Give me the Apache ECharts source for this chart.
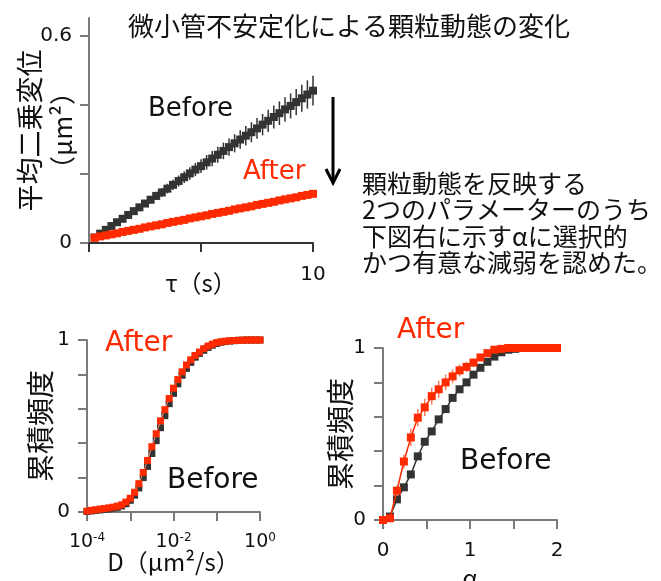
<!DOCTYPE html>
<html><head><meta charset="utf-8">
<script src="https://cdn.jsdelivr.net/npm/echarts@6/dist/echarts.min.js"></script>
<style>html,body{margin:0;padding:0;background:#fff}#c{width:661px;height:581px}</style>
</head><body><div id="c"></div>
<script>
// ---- Top chart: MSD vs tau ----
const tau = [0.25,0.5,0.75,1,1.25,1.5,1.75,2,2.25,2.5,2.75,3,3.25,3.5,3.75,4,4.25,4.5,4.75,5,5.25,5.5,5.75,6,6.25,6.5,6.75,7,7.25,7.5,7.75,8,8.25,8.5,8.75,9,9.25,9.5,9.75,10];
const msdBefore = [0.016,0.027,0.038,0.049,0.06,0.07,0.081,0.092,0.103,0.114,0.125,0.136,0.146,0.157,0.168,0.179,0.19,0.201,0.212,0.222,0.233,0.244,0.255,0.266,0.277,0.288,0.299,0.31,0.32,0.331,0.342,0.353,0.364,0.375,0.386,0.396,0.407,0.418,0.429,0.44];
const msdBeforeErr = [0.002,0.003,0.004,0.005,0.006,0.006,0.007,0.008,0.009,0.01,0.011,0.012,0.013,0.014,0.015,0.016,0.017,0.018,0.019,0.02,0.021,0.022,0.023,0.024,0.025,0.026,0.027,0.028,0.029,0.03,0.031,0.032,0.033,0.034,0.035,0.036,0.038,0.039,0.041,0.043];
const msdAfter = [0.015,0.019,0.022,0.025,0.028,0.032,0.035,0.038,0.041,0.045,0.048,0.051,0.054,0.058,0.061,0.064,0.067,0.071,0.074,0.077,0.08,0.084,0.087,0.09,0.093,0.097,0.1,0.103,0.106,0.11,0.113,0.116,0.119,0.123,0.126,0.129,0.132,0.136,0.139,0.142];
const msdAfterErr = [0.001,0.001,0.001,0.002,0.002,0.002,0.002,0.002,0.003,0.003,0.003,0.003,0.003,0.003,0.004,0.004,0.004,0.004,0.004,0.004,0.005,0.005,0.005,0.005,0.005,0.005,0.006,0.006,0.006,0.006,0.006,0.006,0.007,0.007,0.007,0.007,0.007,0.007,0.008,0.008];
const msdYTicks = [0,0.2,0.4,0.6];
const msdYLabels = [0,0.6];
const msdXTicks = [0,5,10];
const msdXLabels = [10];

// ---- Bottom-left: CDF of D (log axis) ----
const dVals = [1e-4,1.26e-4,1.58e-4,2e-4,2.51e-4,3.16e-4,3.98e-4,5.01e-4,6.31e-4,7.94e-4,
  1e-3,1.26e-3,1.58e-3,2e-3,2.51e-3,3.16e-3,3.98e-3,5.01e-3,6.31e-3,7.94e-3,
  1e-2,1.26e-2,1.58e-2,2e-2,2.51e-2,3.16e-2,3.98e-2,5.01e-2,6.31e-2,7.94e-2,
  1e-1,1.26e-1,1.58e-1,2e-1,2.51e-1,3.16e-1,3.98e-1,5.01e-1,6.31e-1,7.94e-1,1];
const dCdfBefore = [0.003,0.006,0.009,0.012,0.015,0.018,0.022,0.027,0.035,0.048,0.068,0.098,0.14,0.2,0.265,0.34,0.415,0.49,0.56,0.63,0.69,0.745,0.795,0.835,0.87,0.9,0.922,0.94,0.957,0.97,0.98,0.987,0.991,0.994,0.996,0.998,0.999,1,1,1,1];
const dCdfAfter = [0.005,0.01,0.013,0.017,0.02,0.024,0.028,0.034,0.042,0.058,0.08,0.115,0.165,0.23,0.3,0.38,0.455,0.53,0.595,0.66,0.72,0.77,0.815,0.855,0.885,0.91,0.93,0.95,0.965,0.976,0.985,0.99,0.993,0.995,0.997,0.998,0.999,1,1,1,1];
const dTicks = [1e-4,1e-3,1e-2,1e-1,1];
const dLabels = [1e-4,1e-2,1];
const cdfTicks = [0,0.2,0.4,0.6,0.8,1];
const cdfLabels = [0,1];

// ---- Bottom-right: CDF of alpha ----
const alphaVals = [0,0.08,0.16,0.24,0.32,0.4,0.48,0.56,0.64,0.72,0.8,0.88,0.96,1.04,1.12,1.2,1.28,1.36,1.44,1.52,1.6,1.68,1.76,1.84,1.92,2];
const aCdfBefore = [0,0.02,0.12,0.19,0.265,0.37,0.455,0.515,0.585,0.645,0.71,0.76,0.8,0.845,0.885,0.92,0.95,0.975,0.99,0.995,1,1,1,1,1,1];
const aCdfAfter = [0,0.01,0.17,0.34,0.48,0.595,0.655,0.72,0.76,0.8,0.835,0.87,0.89,0.915,0.945,0.97,0.99,0.995,1,1,1,1,1,1,1,1];
const aErrAfter = [0,0.01,0.03,0.04,0.05,0.05,0.05,0.05,0.05,0.045,0.04,0.035,0.03,0.025,0.02,0.015,0.01,0.005,0,0,0,0,0,0,0,0];
const aErrBefore = [0,0.01,0.02,0.02,0.02,0.02,0.02,0.02,0.02,0.02,0.02,0.02,0.02,0.015,0.015,0.01,0.01,0.005,0,0,0,0,0,0,0,0];
const alphaTicks = [0,0.5,1,1.5,2];
const alphaLabels = [0,1,2];

const DARK = '#333333', RED = '#ff2a00', AXIS = '#7a7a7a';
const CJK = '"Noto Sans CJK JP", sans-serif';
const LAT = '"DejaVu Sans", sans-serif';

function zip(xs, ys, es){ return xs.map((x,i)=> es ? [x, ys[i], es[i]] : [x, ys[i]]); }
function errRender(color, w){
  return function(params, api){
    const x = api.value(0), y = api.value(1), e = api.value(2);
    if (!e) return null;
    const p1 = api.coord([x, y - e]), p2 = api.coord([x, y + e]);
    return {type:'line', shape:{x1:p1[0], y1:p1[1], x2:p2[0], y2:p2[1]}, style:{stroke:color, lineWidth:w}};
  };
}
function axisBase(color){
  return {
    axisLine:{show:true, onZero:false, lineStyle:{color:color||AXIS, width:2}},
    axisTick:{show:true, inside:false, length:9, lineStyle:{color:color||AXIS, width:2}},
    splitLine:{show:false},
    nameMoveOverlap:false,
    axisLabel:{color:'#111', fontFamily:LAT, fontSize:20}
  };
}
function mkX(grid, type, min, max, ticks, labels, fmt, name, gap, margin, color){
  const a = axisBase(color);
  return Object.assign(a, {
    type, gridIndex:grid, min, max, logBase:10,
    axisTick:Object.assign(a.axisTick, {customValues:ticks}),
    axisLabel:Object.assign(a.axisLabel, {customValues:labels, formatter:fmt, margin:margin,
      rich:{b:{fontFamily:LAT, fontSize:19, color:'#111'}, s:{fontFamily:LAT, fontSize:12, color:'#111', verticalAlign:'bottom', padding:[0,0,9,0]}}}),
    name, nameLocation:'middle', nameGap:gap,
    nameTextStyle:{fontFamily:CJK, fontSize:24, color:'#111'}
  });
}
function mkY(grid, min, max, ticks, labels, name, gap, nameStyle){
  const a = axisBase();
  return Object.assign(a, {
    type:'value', gridIndex:grid, min, max,
    axisTick:Object.assign(a.axisTick, {customValues:ticks}),
    axisLabel:Object.assign(a.axisLabel, {customValues:labels, margin:17}),
    name, nameLocation:'middle', nameGap:gap, nameRotate:90,
    nameTextStyle:nameStyle
  });
}

const chart = echarts.init(document.getElementById('c'), null, {renderer:'canvas'});
chart.setOption({
  animation:false,
  backgroundColor:'#fff',
  title:{text:'微小管不安定化による顆粒動態の変化', left:344, top:8, textAlign:'center',
    textStyle:{fontFamily:CJK, fontSize:26, fontWeight:'normal', color:'#111'}},
  grid:[
    {left:89, top:18, width:224, height:225, containLabel:false, outerBoundsMode:'none'},
    {left:87, top:340, width:173, height:172, containLabel:false, outerBoundsMode:'none'},
    {left:383, top:348, width:174, height:172, containLabel:false, outerBoundsMode:'none'}
  ],
  xAxis:[
    mkX(0,'value',0,10,msdXTicks,msdXLabels,null,'τ（s）',28,22,'#333'),
    mkX(1,'log',1e-4,1,dTicks,dLabels,function(v){
      const e = Math.round(Math.log10(v)); return '{b|10}{s|' + (e===0?'0':String(e)) + '}';
    },'D（μm²/s）',38,20),
    mkX(2,'value',0,2,alphaTicks,alphaLabels,null,'α',46,21)
  ],
  yAxis:[
    mkY(0,0,0.65,msdYTicks,msdYLabels,'{a|平均二乗変位}\n{b|（μm²）}',10,
      {rich:{a:{fontFamily:CJK, fontSize:27, lineHeight:33, color:'#111'}, b:{fontFamily:CJK, fontSize:26, lineHeight:33, color:'#111'}}}),
    mkY(1,0,1,cdfTicks,cdfLabels,'累積頻度',33,{fontFamily:CJK, fontSize:28, color:'#111'}),
    mkY(2,0,1,cdfTicks,cdfLabels,'累積頻度',29,{fontFamily:CJK, fontSize:28, color:'#111'})
  ],
  series:[
    {type:'custom', xAxisIndex:0, yAxisIndex:0, renderItem:errRender(DARK,1.5), encode:{x:0,y:1}, data:zip(tau,msdBefore,msdBeforeErr), z:2},
    {type:'line', xAxisIndex:0, yAxisIndex:0, data:zip(tau,msdBefore), symbol:'rect', symbolSize:8, showSymbol:true,
      itemStyle:{color:DARK}, lineStyle:{color:DARK, width:4}, z:3},
    {type:'custom', xAxisIndex:0, yAxisIndex:0, renderItem:errRender(RED,1.5), encode:{x:0,y:1}, data:zip(tau,msdAfter,msdAfterErr), z:4},
    {type:'line', xAxisIndex:0, yAxisIndex:0, data:zip(tau,msdAfter), symbol:'rect', symbolSize:8, showSymbol:true,
      itemStyle:{color:RED}, lineStyle:{color:RED, width:6}, z:5},

    {type:'line', xAxisIndex:1, yAxisIndex:1, data:zip(dVals,dCdfBefore), symbol:'rect', symbolSize:7, showSymbol:true,
      itemStyle:{color:DARK}, lineStyle:{color:DARK, width:1}, z:3},
    {type:'line', xAxisIndex:1, yAxisIndex:1, data:zip(dVals,dCdfAfter), symbol:'rect', symbolSize:7, showSymbol:true,
      itemStyle:{color:RED}, lineStyle:{color:'#ff8a70', width:1}, z:5},

    {type:'custom', xAxisIndex:2, yAxisIndex:2, renderItem:errRender(DARK,1.5), encode:{x:0,y:1}, data:zip(alphaVals,aCdfBefore,aErrBefore), z:2},
    {type:'line', xAxisIndex:2, yAxisIndex:2, data:zip(alphaVals,aCdfBefore), symbol:'rect', symbolSize:8, showSymbol:true,
      itemStyle:{color:DARK}, lineStyle:{color:DARK, width:1.5}, z:3},
    {type:'custom', xAxisIndex:2, yAxisIndex:2, renderItem:errRender('#ff7a5a',1.5), encode:{x:0,y:1}, data:zip(alphaVals,aCdfAfter,aErrAfter), z:4},
    {type:'line', xAxisIndex:2, yAxisIndex:2, data:zip(alphaVals,aCdfAfter), symbol:'rect', symbolSize:8, showSymbol:true,
      itemStyle:{color:RED}, lineStyle:{color:RED, width:1.5}, z:5}
  ],
  graphic:[
    {type:'text', left:148, top:96, style:{text:'Before', fontFamily:LAT, fontSize:26, fill:'#111'}},
    {type:'text', left:243, top:159, style:{text:'After', fontFamily:LAT, fontSize:26, fill:RED}},
    {type:'line', shape:{x1:333, y1:97, x2:333, y2:182}, style:{stroke:'#000', lineWidth:3}},
    {type:'polyline', shape:{points:[[326,169],[333,183],[340,169]]}, style:{stroke:'#000', lineWidth:3, fill:null}},
    {type:'text', left:362, top:170, style:{text:'顆粒動態を反映する\n2つのパラメーターのうち\n下図右に示すαに選択的\nかつ有意な減弱を認めた。',
      fontFamily:CJK, fontSize:25, lineHeight:26.5, fill:'#111'}},
    {type:'text', left:105, top:330, style:{text:'After', fontFamily:LAT, fontSize:28, fill:RED}},
    {type:'text', left:167, top:467, style:{text:'Before', fontFamily:LAT, fontSize:28, fill:'#111'}},
    {type:'text', left:397, top:317, style:{text:'After', fontFamily:LAT, fontSize:28, fill:RED}},
    {type:'text', left:460, top:448, style:{text:'Before', fontFamily:LAT, fontSize:28, fill:'#111'}}
  ]
});
</script></body></html>
